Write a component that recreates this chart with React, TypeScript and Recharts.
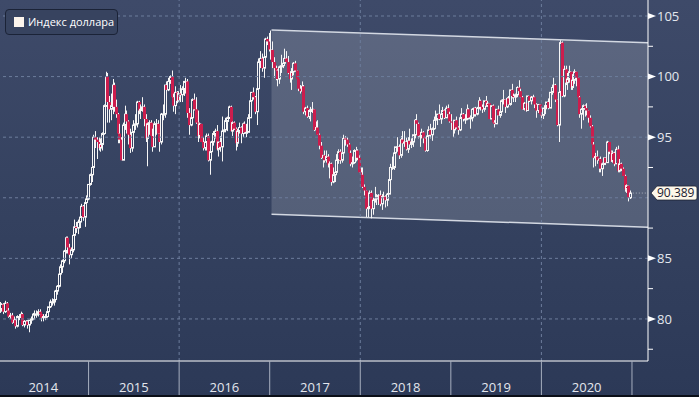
import React from 'react';
import { ComposedChart, Bar, Area, XAxis, YAxis, ReferenceLine } from 'recharts';

// Weekly candles of the dollar index, [high, low, close], one array per calendar year
const weeks2014 = [
  [80.9, 80.0, 80.8], [81.4, 80.5, 80.8], [81.3, 80.6, 81.2], [81.3, 80.4, 80.6], [81.5, 80.5, 81.3],
  [81.4, 80.6, 80.7], [80.9, 80.1, 80.2], [80.5, 80.0, 80.3], [80.5, 79.6, 79.7], [80.2, 79.5, 79.9],
  [80.0, 79.2, 79.4], [80.3, 79.3, 80.2], [80.4, 79.9, 80.2], [80.6, 80.0, 80.4], [80.5, 79.4, 79.5],
  [79.9, 79.3, 79.8], [79.9, 79.5, 79.8], [79.9, 79.2, 79.5], [79.9, 78.9, 79.9], [80.2, 79.6, 80.0],
  [80.5, 79.9, 80.4], [80.7, 80.2, 80.4], [80.7, 80.1, 80.4], [80.8, 80.2, 80.6], [80.8, 80.3, 80.4],
  [80.4, 79.8, 80.1], [80.4, 79.8, 80.2], [80.4, 79.9, 80.2], [80.7, 80.1, 80.6], [81.0, 80.5, 81.0],
  [81.6, 80.9, 81.4], [81.7, 81.1, 81.4], [81.6, 81.1, 81.6], [82.4, 81.5, 82.3], [82.8, 82.0, 82.7],
  [84.0, 82.6, 83.7], [84.5, 83.6, 84.3], [84.9, 83.8, 84.8], [85.7, 84.6, 85.6], [86.8, 85.4, 86.7],
  [86.8, 85.4, 85.9], [86.2, 84.5, 85.3], [85.9, 85.0, 85.7], [87.0, 85.5, 86.9], [88.2, 86.6, 87.6],
  [88.0, 87.1, 87.5], [88.2, 87.0, 88.0], [88.5, 87.5, 88.4], [89.5, 88.1, 89.3], [89.4, 88.1, 88.4],
  [89.7, 87.6, 89.6], [90.2, 89.4, 89.9],
];
const weeks2015 = [
  [91.1, 89.8, 91.1], [92.0, 91.0, 91.9], [92.7, 91.3, 92.5], [95.2, 92.3, 95.0], [95.5, 94.1, 94.8],
  [95.0, 93.2, 94.6], [95.0, 93.9, 94.1], [94.9, 93.8, 94.4], [95.4, 93.9, 95.3], [97.7, 95.2, 97.6],
  [100.4, 97.5, 100.0], [100.3, 96.2, 97.9], [98.4, 96.2, 97.3], [98.6, 96.4, 97.6], [99.8, 96.9, 99.3],
  [99.5, 97.1, 97.5], [98.1, 96.6, 96.9], [97.0, 94.5, 95.3], [96.1, 94.5, 94.8], [95.0, 93.1, 93.1],
  [96.2, 93.1, 96.0], [97.6, 95.6, 96.9], [97.2, 95.3, 96.3], [96.4, 94.4, 95.2], [95.7, 93.7, 94.1],
  [95.6, 93.8, 95.4], [96.4, 94.8, 96.0], [96.9, 95.6, 96.1], [98.0, 95.8, 97.9], [98.0, 96.9, 97.2],
  [97.7, 96.5, 97.3], [98.3, 97.1, 97.5], [97.7, 95.9, 96.5], [96.9, 94.6, 94.9], [96.2, 92.6, 96.1],
  [96.4, 95.2, 96.2], [96.4, 94.9, 95.1], [95.7, 93.8, 94.2], [96.3, 94.2, 96.1], [96.5, 95.2, 96.1],
  [96.4, 94.9, 95.3], [95.3, 93.8, 94.6], [97.0, 94.4, 96.9], [97.7, 96.4, 96.9], [99.3, 96.6, 99.3],
  [99.6, 98.6, 98.9], [99.9, 98.8, 99.6], [100.1, 99.4, 100.0], [100.5, 97.7, 98.3], [98.6, 97.1, 97.6],
  [99.2, 96.9, 98.7], [98.8, 97.8, 98.0],
];
const weeks2016 = [
  [98.8, 97.9, 98.6], [99.3, 97.9, 98.5], [99.2, 97.9, 99.0], [99.6, 98.4, 99.6], [99.9, 98.6, 99.6],
  [99.8, 96.6, 97.0], [97.4, 95.2, 96.0], [97.3, 95.9, 96.6], [98.2, 96.6, 98.1], [98.6, 97.2, 97.3],
  [98.3, 96.1, 96.2], [97.2, 94.6, 95.1], [96.2, 94.9, 96.1], [96.1, 94.6, 94.6], [95.0, 93.9, 94.1],
  [95.0, 93.9, 94.6], [95.3, 93.9, 95.1], [95.3, 93.0, 93.1], [94.0, 91.9, 93.8], [94.7, 93.4, 94.6],
  [95.5, 94.3, 95.3], [95.7, 94.9, 95.5], [96.0, 93.9, 94.0], [94.6, 93.4, 94.6], [95.1, 93.8, 94.2],
  [96.7, 93.0, 95.5], [96.4, 95.4, 95.6], [96.6, 95.4, 96.3], [96.7, 95.5, 96.6], [97.6, 96.5, 97.5],
  [97.6, 95.5, 95.5], [96.3, 95.1, 96.2], [96.3, 95.6, 95.7], [95.8, 93.9, 94.5], [95.7, 94.2, 95.5],
  [96.2, 95.3, 95.8], [95.9, 94.5, 95.3], [96.2, 95.0, 96.1], [96.3, 95.3, 95.4], [96.1, 95.0, 95.4],
  [96.9, 95.4, 96.6], [98.0, 96.6, 98.0], [98.7, 97.6, 98.7], [99.1, 98.1, 98.3], [98.4, 96.9, 97.1],
  [99.2, 96.0, 99.0], [101.5, 98.9, 101.2], [102.1, 100.7, 101.5], [101.9, 100.4, 100.7], [101.7, 99.9, 101.6],
  [103.2, 100.7, 103.1], [103.3, 102.6, 102.9], [103.6, 102.1, 102.2],
];
const weeks2017 = [
  [103.8, 101.4, 102.2], [102.9, 100.7, 101.2], [101.6, 99.9, 100.7], [100.9, 99.7, 100.5], [100.6, 99.2, 99.8],
  [100.9, 99.4, 100.8], [101.8, 100.3, 100.9], [101.5, 100.7, 101.1], [102.3, 101.0, 101.5], [102.1, 101.2, 101.2],
  [101.7, 100.2, 100.3], [100.4, 99.5, 99.8], [100.7, 98.9, 100.4], [101.2, 100.1, 101.1], [101.3, 100.4, 100.5],
  [100.5, 99.5, 99.8], [99.8, 98.8, 99.0], [99.3, 98.6, 98.8], [99.6, 98.5, 99.2], [99.3, 96.9, 97.1],
  [97.5, 96.8, 97.4], [97.6, 96.6, 96.7], [97.3, 96.5, 97.2], [97.5, 96.3, 97.2], [97.9, 97.0, 97.3],
  [97.3, 95.5, 95.6], [96.3, 95.5, 95.8], [96.4, 95.2, 95.2], [95.3, 94.0, 94.3], [94.6, 93.2, 93.3],
  [93.5, 92.5, 93.5], [93.9, 92.9, 93.1], [93.9, 92.9, 93.4], [93.6, 92.5, 92.7], [93.0, 91.6, 92.8],
  [92.9, 91.0, 91.3], [92.5, 91.2, 91.9], [92.6, 91.3, 92.1], [93.6, 92.0, 93.1], [94.0, 92.8, 93.8],
  [94.0, 92.8, 93.1], [93.8, 92.9, 93.7], [95.2, 93.3, 94.9], [95.1, 94.3, 94.8], [95.0, 94.2, 94.4],
  [94.5, 93.4, 93.7], [93.9, 92.6, 92.8], [93.4, 92.5, 92.9], [94.0, 92.8, 93.9], [94.2, 93.0, 93.9],
  [94.0, 93.1, 93.3], [93.5, 92.1, 92.1],
];
const weeks2018 = [
  [92.5, 91.7, 91.9], [92.5, 90.8, 90.9], [91.1, 90.2, 90.6], [90.5, 88.4, 89.1], [89.3, 88.4, 89.2],
  [90.6, 89.1, 90.4], [90.6, 88.3, 89.1], [90.0, 88.6, 89.8], [90.9, 89.6, 89.9], [90.3, 89.4, 90.1],
  [90.3, 89.4, 90.2], [90.6, 89.3, 89.5], [90.3, 89.0, 90.1], [90.5, 89.8, 90.1], [90.2, 89.2, 89.8],
  [90.4, 89.3, 90.3], [91.8, 90.3, 91.5], [92.8, 91.3, 92.5], [93.4, 92.3, 92.5], [93.7, 92.3, 93.7],
  [94.2, 93.1, 94.2], [95.0, 93.8, 94.2], [94.4, 93.2, 93.5], [95.1, 93.3, 94.8], [95.5, 94.3, 94.5],
  [95.5, 94.2, 94.6], [95.0, 93.9, 94.0], [95.0, 93.7, 94.7], [95.7, 94.3, 94.4], [94.9, 94.1, 94.6],
  [95.2, 94.2, 95.2], [96.5, 94.9, 96.4], [96.9, 96.0, 96.1], [96.2, 94.9, 95.1], [95.3, 94.2, 95.1],
  [95.7, 94.9, 95.4], [95.5, 94.5, 94.9], [95.0, 93.8, 93.9], [95.2, 93.8, 95.1], [95.9, 95.0, 95.6],
  [96.1, 94.9, 95.2], [95.8, 94.7, 95.7], [96.7, 95.6, 96.4], [97.2, 95.9, 96.5], [96.9, 96.0, 96.9],
  [97.7, 96.4, 96.5], [97.0, 96.1, 96.9], [97.5, 96.5, 97.2], [97.3, 96.5, 96.6], [97.6, 96.6, 97.4],
  [97.7, 96.4, 96.9], [97.1, 96.2, 96.3],
];
const weeks2019 = [
  [96.9, 95.6, 96.2], [96.3, 95.0, 95.6], [96.4, 95.3, 96.4], [96.7, 95.7, 95.8], [95.9, 95.2, 95.6],
  [96.7, 95.5, 96.6], [97.4, 96.4, 96.9], [97.0, 96.3, 96.5], [96.9, 96.1, 96.5], [97.7, 96.4, 97.3],
  [97.4, 96.5, 96.6], [96.8, 95.7, 96.6], [97.4, 96.3, 97.3], [97.4, 96.7, 97.4], [97.5, 96.7, 96.9],
  [97.5, 96.8, 97.4], [98.3, 97.3, 98.0], [98.1, 97.2, 97.5], [97.7, 97.0, 97.3], [98.0, 97.1, 98.0],
  [98.4, 97.5, 97.6], [98.0, 97.5, 97.8], [97.8, 96.5, 96.5], [97.6, 96.5, 97.6], [97.7, 96.1, 96.2],
  [96.4, 95.8, 96.1], [97.3, 96.1, 97.3], [97.6, 96.8, 96.8], [97.4, 96.6, 97.1], [98.1, 97.1, 98.0],
  [98.9, 97.7, 98.1], [98.0, 97.0, 97.5], [98.3, 97.4, 98.2], [98.4, 97.6, 97.7], [98.9, 97.6, 98.9],
  [99.4, 98.2, 98.4], [98.6, 97.9, 98.3], [98.6, 97.9, 98.5], [99.2, 98.3, 99.1], [99.7, 98.8, 98.8],
  [99.0, 98.3, 98.3], [98.4, 97.3, 97.3], [97.9, 97.2, 97.8], [97.9, 97.1, 97.2], [98.4, 97.2, 98.4],
  [98.4, 97.9, 98.0], [98.4, 97.7, 98.3], [98.5, 98.1, 98.3], [98.3, 97.4, 97.7], [97.8, 96.6, 97.2],
  [97.7, 97.0, 97.7], [97.7, 96.8, 96.9],
];
const weeks2020 = [
  [96.9, 96.4, 96.8], [97.4, 96.5, 97.4], [97.6, 96.9, 97.6], [97.9, 97.3, 97.9], [98.2, 97.3, 97.4],
  [98.7, 97.4, 98.7], [99.1, 98.5, 99.1], [99.9, 99.1, 99.3], [99.4, 97.9, 98.1], [98.1, 95.9, 96.0],
  [98.9, 94.6, 98.7], [103.0, 98.3, 102.8], [102.9, 98.3, 98.4], [100.9, 98.3, 100.6], [100.9, 99.3, 99.5],
  [100.3, 98.9, 99.8], [100.9, 99.5, 100.4], [100.4, 98.9, 99.1], [100.2, 98.9, 99.7], [100.6, 99.4, 100.4],
  [100.4, 99.2, 99.9], [99.9, 98.0, 98.3], [98.4, 96.6, 96.9], [97.4, 95.7, 97.3], [97.7, 96.4, 97.6],
  [97.7, 96.7, 97.4], [97.8, 96.8, 97.2], [97.2, 96.2, 96.6], [96.8, 95.8, 95.9], [96.0, 94.4, 94.4],
  [94.6, 92.5, 93.3], [93.7, 92.6, 93.4], [93.9, 92.8, 93.1], [93.2, 92.1, 93.2], [93.4, 92.1, 92.4],
  [92.9, 91.8, 92.8], [93.3, 92.7, 93.3], [93.3, 92.7, 92.9], [94.7, 92.9, 94.6], [94.6, 93.6, 93.8],
  [93.9, 93.0, 93.0], [93.9, 92.9, 93.7], [93.8, 92.6, 92.8], [94.2, 92.8, 94.0], [94.3, 92.1, 92.2],
  [93.2, 92.1, 92.8], [92.9, 92.2, 92.4], [92.5, 91.8, 91.8], [91.9, 90.5, 90.7], [91.1, 90.4, 91.0],
  [91.0, 89.7, 90.0], [90.6, 89.9, 90.389],
];
const firstOpen = 80.2;

// Channel drawn over the chart (left / right ends)
const channelDates = [2017.02, 2021.177];
const channelTop = [103.85, 102.79];
const channelBottom = [88.65, 87.57];

const years = [2014, 2015, 2016, 2017, 2018, 2019, 2020, 2021];
const gridYears = [2016, 2018, 2020];
const majorPrices = [80, 85, 90, 95, 100, 105];
const minorPrices = [77.5, 82.5, 87.5, 92.5, 97.5, 102.5];

const X_DOMAIN: [number, number] = [2014.022, 2021.177];
const Y_DOMAIN: [number, number] = [76.53, 106.32];
const FONT = "'Open Sans', sans-serif";

const allWeeks = [...weeks2014, ...weeks2015, ...weeks2016, ...weeks2017, ...weeks2018, ...weeks2019, ...weeks2020];
const candles = allWeeks.map(([h, l, close], i) => {
  const open = i === 0 ? firstOpen : allWeeks[i - 1][2];
  const high = Math.max(h, open, close);
  const low = Math.min(l, open, close);
  return { t: 2014 + (i * 7) / 365.25, open, close, high, low, range: [low, high] };
});
const last = candles[candles.length - 1];

const channelData = channelDates.map((t, i) => ({ t, band: [channelBottom[i], channelTop[i]] }));

const yearTicks = years.flatMap((y) => [y, y + 0.5]).filter((v) => v <= 2021);

const Candle = (props: any) => {
  const { x, y, width, height, payload } = props;
  if (!payload || x == null) return null;
  const top = Math.min(y, y + height);
  const bot = Math.max(y, y + height);
  const { open, close, high, low } = payload;
  const span = high - low || 1;
  const py = (v: number) => top + ((high - v) / span) * (bot - top);
  const cx = Math.round(x + width / 2) + 0.5;
  const bTop = py(Math.max(open, close));
  const bBot = Math.max(py(Math.min(open, close)), bTop + 1);
  if (close >= open) {
    return (
      <g>
        <line x1={cx} y1={top} x2={cx} y2={bTop} stroke="#f6f6f6" />
        <line x1={cx} y1={bBot} x2={cx} y2={bot} stroke="#f6f6f6" />
        <rect x={cx - 1} y={bTop} width={2} height={bBot - bTop} fill="none" stroke="#f6f6f6" />
      </g>
    );
  }
  return (
    <g>
      <line x1={cx} y1={top} x2={cx} y2={bot} stroke="#f6f6f6" />
      <rect x={cx - 1.5} y={bTop} width={3} height={bBot - bTop} fill="#cc1d4d" />
    </g>
  );
};

const YearTick = (props: any) => {
  const { x, y, payload } = props;
  const v = payload.value;
  if (Number.isInteger(v)) {
    return <line x1={x} y1={y} x2={x} y2={y + 36} stroke="#a7afbf" />;
  }
  return (
    <text x={x} y={y + 31} textAnchor="middle" fill="#e4e7ee" fontSize={13} fontFamily={FONT}>
      {Math.floor(v)}
    </text>
  );
};

const PriceTick = (props: any) => {
  const { x, y, payload } = props;
  const v = payload.value;
  if (v % 5 !== 0) {
    return <line x1={x} y1={y} x2={x + 5} y2={y} stroke="#ffffff" />;
  }
  // the last-price tag sits on top of the nearest label, as in the source
  if (Math.abs(v - last.close) < 1.5) return <g />;
  return (
    <g>
      <polygon points={`${x},${y - 3} ${x + 8},${y} ${x},${y + 3}`} fill="#ffffff" />
      <text x={x + 9} y={y} dy="0.36em" fill="#e4e7ee" fontSize={13} fontFamily={FONT}>
        {v}
      </text>
    </g>
  );
};

const PriceTag = (props: any) => {
  const { viewBox } = props;
  if (!viewBox) return null;
  const x = viewBox.x + viewBox.width + 3;
  const y = viewBox.y;
  const right = 697;
  return (
    <g>
      <path
        d={`M${x},${y} L${x + 6},${y - 7} L${right - 2},${y - 7} Q${right},${y - 7} ${right},${y - 5} L${right},${y + 5} Q${right},${y + 7} ${right - 2},${y + 7} L${x + 6},${y + 7} Z`}
        fill="#fdf7ea"
        stroke="#1d2333"
        strokeWidth={0.8}
      />
      <text x={x + 6} y={y} dy="0.36em" fill="#1b2030" fontSize={12} fontFamily={FONT}>
        {last.close.toFixed(3)}
      </text>
    </g>
  );
};

const App: React.FC = () => {
  return (
    <div
      style={{
        position: 'absolute',
        left: 0,
        top: 0,
        width: 699,
        height: 397,
        background: 'linear-gradient(to bottom, #3e4a69 0%, #34415f 55%, #2c3957 100%)',
        fontFamily: FONT,
      }}
    >
      <ComposedChart width={699} height={397} data={candles} margin={{ top: 0, right: 0, bottom: 0, left: 0 }}>
        <XAxis
          dataKey="t"
          type="number"
          domain={X_DOMAIN}
          allowDataOverflow
          ticks={yearTicks}
          interval={0}
          tick={<YearTick />}
          tickLine={false}
          tickSize={0}
          tickMargin={0}
          height={36}
          axisLine={{ stroke: '#ffffff' }}
        />
        <YAxis
          orientation="right"
          type="number"
          domain={Y_DOMAIN}
          allowDataOverflow
          ticks={[...minorPrices, ...majorPrices].sort((a, b) => a - b)}
          interval={0}
          tick={<PriceTick />}
          tickLine={false}
          tickSize={0}
          tickMargin={0}
          width={51}
          axisLine={{ stroke: '#ffffff' }}
        />
        {majorPrices.map((p) => (
          <ReferenceLine key={`h${p}`} y={p} stroke="#6d7d9c" strokeDasharray="3 3" />
        ))}
        {gridYears.map((y) => (
          <ReferenceLine key={`v${y}`} x={y} stroke="#6d7d9c" strokeDasharray="3 3" />
        ))}
        <Area
          data={channelData}
          dataKey="band"
          type="linear"
          fill="#ffffff"
          fillOpacity={0.16}
          stroke="#d3d8e2"
          strokeWidth={1.5}
          dot={false}
          activeDot={false}
          isAnimationActive={false}
        />
        <Bar dataKey="range" barSize={3} shape={<Candle />} isAnimationActive={false} />
        <ReferenceLine
          segment={[{ x: last.t, y: last.close }, { x: X_DOMAIN[1], y: last.close }]}
          stroke="#ffffff"
          strokeOpacity={0.5}
          strokeDasharray="1 2"
        />
        <ReferenceLine y={last.close} stroke="none" label={(p: any) => <PriceTag {...p} />} />
      </ComposedChart>
      <div
        style={{
          position: 'absolute',
          left: 5,
          top: 9,
          width: 111,
          height: 24,
          border: '1px solid #1b2337',
          borderRadius: 4,
          background: '#37435f',
        }}
      >
        <div style={{ position: 'absolute', left: 8, top: 7, width: 10, height: 10, background: '#fbf4ec' }} />
        <div
          style={{
            position: 'absolute',
            left: 22,
            top: 0,
            lineHeight: '24px',
            fontSize: 11,
            color: '#ffffff',
            whiteSpace: 'nowrap',
          }}
        >
          Индекс доллара
        </div>
      </div>
      <div style={{ position: 'absolute', left: 0, bottom: 0, width: 699, height: 2, background: '#0b0f18' }} />
    </div>
  );
};

export default App;
